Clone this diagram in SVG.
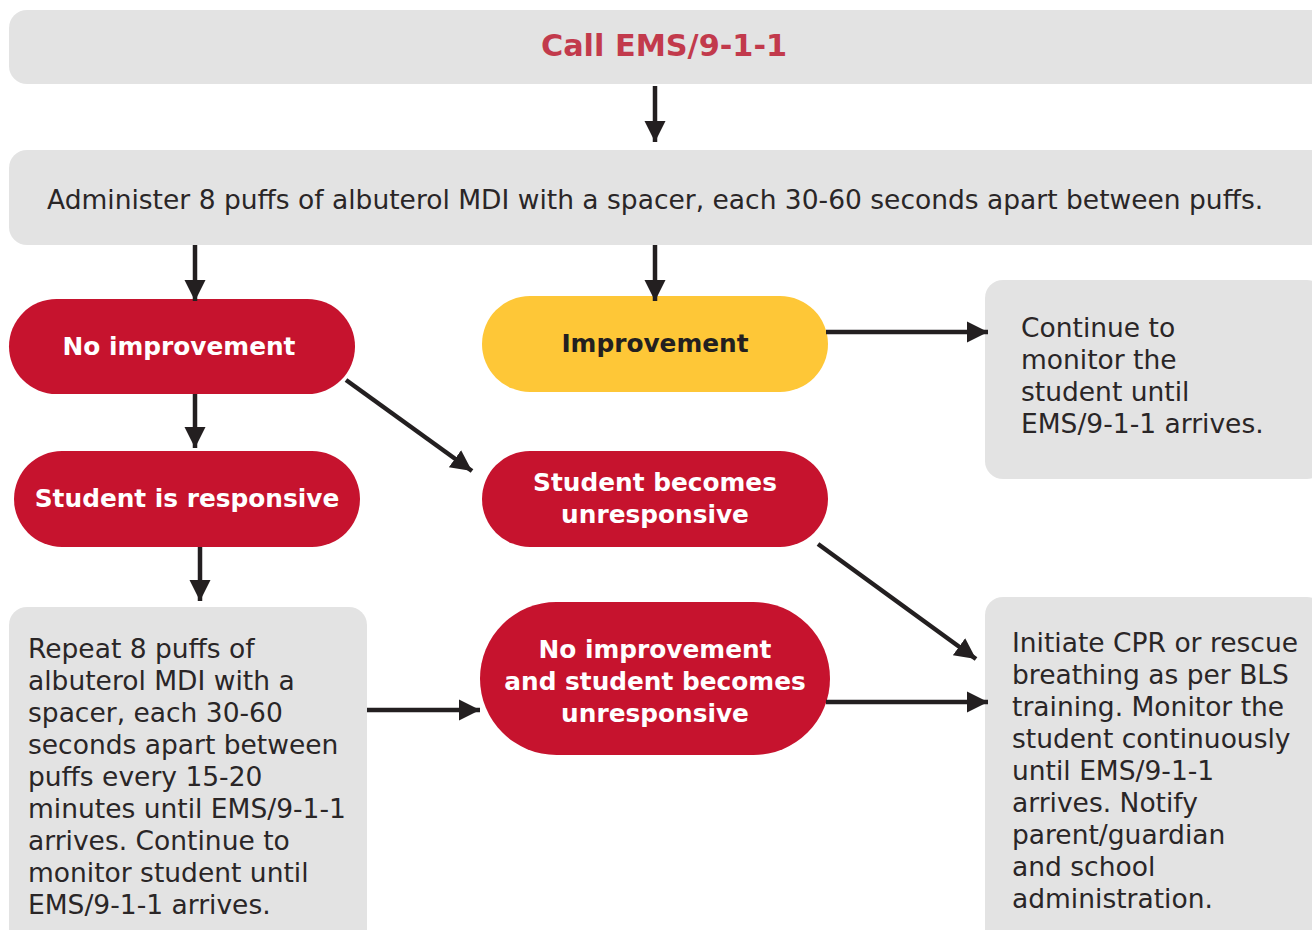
<svg xmlns="http://www.w3.org/2000/svg" width="1312" height="930" viewBox="0 0 1312 930">
  <defs>
    <style>
      .box { fill: #e3e3e3; }
      .red { fill: #c6132e; }
      .yel { fill: #fec737; }
      .txt { font-family: "DejaVu Sans", "Liberation Sans", sans-serif; font-size: 26.5px; fill: #2a2627; }
      .lbl { font-family: "DejaVu Sans", "Liberation Sans", sans-serif; font-size: 24.8px; font-weight: bold; fill: #ffffff; text-anchor: middle; }
      .title { font-family: "DejaVu Sans", "Liberation Sans", sans-serif; font-size: 30.3px; font-weight: bold; fill: #c23a4c; text-anchor: middle; }
      .edge { stroke: #231f20; stroke-width: 4.5; fill: none; marker-end: url(#head); }
    </style>
    <marker id="head" viewBox="0 0 10 10" refX="10" refY="5" markerUnits="userSpaceOnUse" markerWidth="21" markerHeight="28" orient="auto">
      <path d="M0,0 L10,5 L0,10 Z" fill="#231f20"/>
    </marker>
  </defs>

  <g id="call-ems">
    <rect class="box" x="9" y="10" width="1320" height="74" rx="18"/>
    <text class="title" x="664" y="56">Call EMS/9-1-1</text>
  </g>

  <g id="administer">
    <rect class="box" x="9" y="150" width="1320" height="95" rx="18"/>
    <text class="txt" x="47" y="209">Administer 8 puffs of albuterol MDI with a spacer, each 30-60 seconds apart between puffs.</text>
  </g>

  <g id="no-improvement">
    <rect class="red" x="9" y="299" width="346" height="95" rx="47.5"/>
    <text class="lbl" x="179" y="355">No improvement</text>
  </g>

  <g id="improvement">
    <rect class="yel" x="482" y="296" width="346" height="96" rx="48"/>
    <text class="lbl" x="655" y="352" style="fill:#231f20">Improvement</text>
  </g>

  <g id="continue-monitor">
    <rect class="box" x="985" y="280" width="340" height="199" rx="18"/>
    <text class="txt" x="1021" y="337">Continue to</text>
    <text class="txt" x="1021" y="369">monitor the</text>
    <text class="txt" x="1021" y="401">student until</text>
    <text class="txt" x="1021" y="433">EMS/9-1-1  arrives.</text>
  </g>

  <g id="student-responsive">
    <rect class="red" x="14" y="451" width="346" height="96" rx="48"/>
    <text class="lbl" x="187" y="507">Student is responsive</text>
  </g>

  <g id="student-unresponsive">
    <rect class="red" x="482" y="451" width="346" height="96" rx="48"/>
    <text class="lbl" x="655" y="491">Student becomes</text>
    <text class="lbl" x="655" y="523">unresponsive</text>
  </g>

  <g id="repeat-puffs">
    <rect class="box" x="9" y="607" width="358" height="340" rx="18"/>
    <text class="txt" x="28" y="658">Repeat 8 puffs of</text>
    <text class="txt" x="28" y="690">albuterol MDI with a</text>
    <text class="txt" x="28" y="722">spacer, each 30-60</text>
    <text class="txt" x="28" y="754">seconds apart between</text>
    <text class="txt" x="28" y="786">puffs every 15-20</text>
    <text class="txt" x="28" y="818">minutes until EMS/9-1-1</text>
    <text class="txt" x="28" y="850">arrives. Continue to</text>
    <text class="txt" x="28" y="882">monitor student until</text>
    <text class="txt" x="28" y="914">EMS/9-1-1 arrives.</text>
  </g>

  <g id="no-improvement-unresponsive">
    <rect class="red" x="480" y="602" width="350" height="153" rx="76.5"/>
    <text class="lbl" x="655" y="658">No improvement</text>
    <text class="lbl" x="655" y="690">and student becomes</text>
    <text class="lbl" x="655" y="722">unresponsive</text>
  </g>

  <g id="initiate-cpr">
    <rect class="box" x="985" y="597" width="340" height="350" rx="18"/>
    <text class="txt" x="1012" y="652">Initiate CPR or rescue</text>
    <text class="txt" x="1012" y="684">breathing as per BLS</text>
    <text class="txt" x="1012" y="716">training. Monitor the</text>
    <text class="txt" x="1012" y="748">student continuously</text>
    <text class="txt" x="1012" y="780">until EMS/9-1-1</text>
    <text class="txt" x="1012" y="812">arrives. Notify</text>
    <text class="txt" x="1012" y="844">parent/guardian</text>
    <text class="txt" x="1012" y="876">and school</text>
    <text class="txt" x="1012" y="908">administration.</text>
  </g>

  <g id="connectors">
    <line class="edge" x1="655" y1="86" x2="655" y2="142"/>
    <line class="edge" x1="195" y1="245" x2="195" y2="301"/>
    <line class="edge" x1="655" y1="245" x2="655" y2="301"/>
    <line class="edge" x1="826" y1="332" x2="988" y2="332"/>
    <line class="edge" x1="195" y1="394" x2="195" y2="448"/>
    <line class="edge" x1="346" y1="380" x2="472" y2="471"/>
    <line class="edge" x1="200" y1="547" x2="200" y2="601"/>
    <line class="edge" x1="367" y1="710" x2="480" y2="710"/>
    <line class="edge" x1="818" y1="544" x2="976" y2="659"/>
    <line class="edge" x1="826" y1="702" x2="988" y2="702"/>
  </g>
</svg>
